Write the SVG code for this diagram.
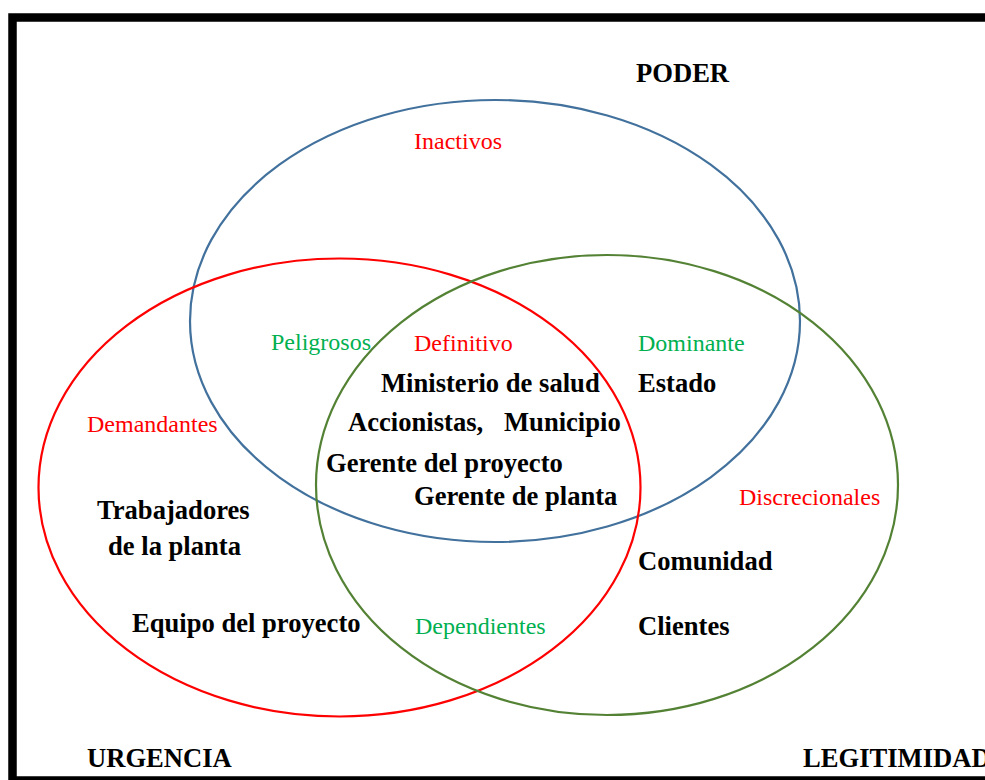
<svg xmlns="http://www.w3.org/2000/svg" width="985" height="780" viewBox="0 0 985 780">
<style>
.b{font-family:"Liberation Serif","Times New Roman",serif;font-weight:bold;font-size:26.6px;fill:#000}
.r{font-family:"Liberation Serif","Times New Roman",serif;font-size:24px;fill:#FF0000}
.g{font-family:"Liberation Serif","Times New Roman",serif;font-size:24px;fill:#00B050}
.c{fill:none;stroke-width:2.2}
</style>
<rect x="0" y="0" width="985" height="780" fill="#fff"/>
<rect x="12.5" y="17.5" width="1000" height="763" fill="none" stroke="#000" stroke-width="8.5"/>
<g id="connectors">
<ellipse id="poder" class="c" cx="495" cy="321" rx="305" ry="221" stroke="#41719C"/>
<ellipse id="urgencia" class="c" cx="339.5" cy="487.5" rx="301" ry="229" stroke="#FF0000"/>
<ellipse id="legitimidad" class="c" cx="607" cy="485" rx="291" ry="230" stroke="#548235"/>
</g>
<g id="titles">
<text class="b" x="636" y="82">PODER</text>
<text class="b" x="87" y="767">URGENCIA</text>
<text class="b" x="803" y="767">LEGITIMIDAD</text>
</g>
<g id="inactivos"><text class="r" x="414" y="149">Inactivos</text></g>
<g id="peligrosos"><text class="g" x="271" y="350">Peligrosos</text></g>
<g id="definitivo">
<text class="r" x="414" y="351">Definitivo</text>
<text class="b" x="381" y="392">Ministerio de salud</text>
<text class="b" x="348" y="431">Accionistas,</text>
<text class="b" x="504" y="431">Municipio</text>
<text class="b" x="326" y="472">Gerente del proyecto</text>
<text class="b" x="414" y="505">Gerente de planta</text>
</g>
<g id="dominante">
<text class="g" x="638" y="351">Dominante</text>
<text class="b" x="638" y="392">Estado</text>
</g>
<g id="demandantes">
<text class="r" x="87" y="432">Demandantes</text>
<text class="b" x="97" y="519">Trabajadores</text>
<text class="b" x="108" y="555">de la planta</text>
<text class="b" x="132" y="632">Equipo del proyecto</text>
</g>
<g id="discrecionales">
<text class="r" x="739" y="505">Discrecionales</text>
<text class="b" x="638" y="570">Comunidad</text>
<text class="b" x="638" y="635">Clientes</text>
</g>
<g id="dependientes"><text class="g" x="415" y="634">Dependientes</text></g>
</svg>
